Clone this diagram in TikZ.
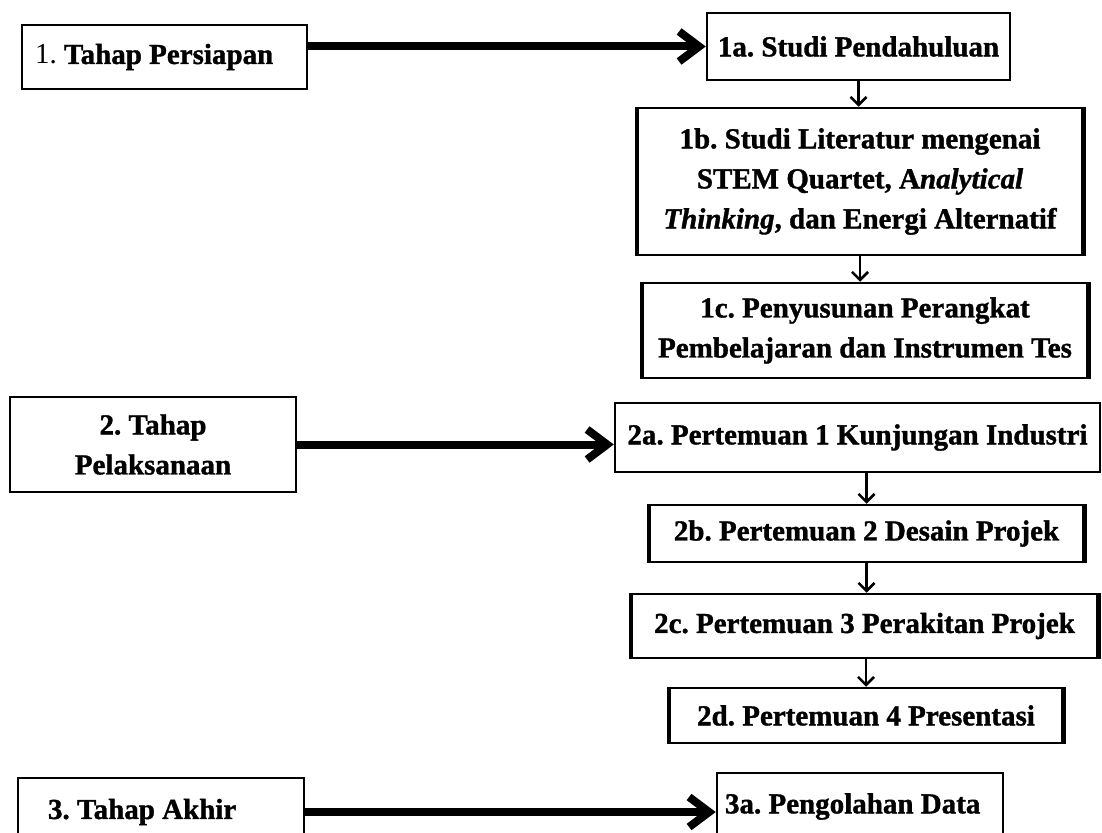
\documentclass[tikz,border=0pt]{standalone}
\usepackage{fontspec}
\setmainfont{Liberation Serif}[BoldFeatures={FakeBold=1.2},BoldItalicFeatures={FakeBold=1.2}]
\usetikzlibrary{arrows.meta}
\frenchspacing
\begin{document}
\begin{tikzpicture}[x=1pt,y=-1pt,
  box/.style={draw=black, line width=2.5pt, rectangle, inner sep=0pt,
    font=\fontsize{29}{40}\selectfont\bfseries\frenchspacing, align=center},
  bigarrow/.style={line width=8pt, -{Straight Barb[length=20pt,width=30pt]}},
  smallarrow/.style={line width=2.6pt, -{Straight Barb[length=8pt,width=16pt]}},
  sidestroke/.style={line width=4.5pt}]
\useasboundingbox[fill=white] (0,0) rectangle (1102,832);

% left column
\node[box, minimum width=285pt, minimum height=64pt, text width=259pt,
      align=flush left, inner xsep=13pt] (p1) at (164.5,57) {{\mdseries 1.} Tahap Persiapan};
\node[box, minimum width=286pt, minimum height=95pt] (p2) at (153,444.5) {2. Tahap\\Pelaksanaan};
\node[box, minimum width=286pt, minimum height=68pt, text width=226pt,
      align=flush left, inner xsep=30pt] (p3) at (161,812) {3. Tahap Akhir};

% right column
\node[box, minimum width=303pt, minimum height=67pt] (a1a) at (858.5,46.5) {1a. Studi Pendahuluan};
\node[box, minimum width=444pt, minimum height=147pt] (b1b) at (860,181.5)
  {1b. Studi Literatur mengenai\\STEM Quartet, A\textit{nalytical}\\\textit{Thinking}, dan Energi Alternatif};
\node[box, minimum width=444pt, minimum height=95pt] (c1c) at (865,330.5)
  {1c. Penyusunan Perangkat\\Pembelajaran dan Instrumen Tes};

\node[box, minimum width=485pt, minimum height=69pt] (a2a) at (857.5,437.5) {2a. Pertemuan 1 Kunjungan Industri};
\node[box, minimum width=433pt, minimum height=57pt] (b2b) at (866.5,533.5) {2b. Pertemuan 2 Desain Projek};
\node[box, minimum width=465pt, minimum height=64pt] (c2c) at (864.5,626) {2c. Pertemuan 3 Perakitan Projek};
\node[box, minimum width=392pt, minimum height=55pt] (d2d) at (866,715.5) {2d. Pertemuan 4 Presentasi};

\node[box, minimum width=286pt, minimum height=67pt, text width=270pt,
      align=flush left, inner xsep=8pt] (a3a) at (860,806.5) {3a. Pengolahan Data};

% thicker side strokes
\foreach \n in {b1b,c1c,b2b,c2c,d2d}
  \draw[sidestroke] (\n.north west) -- (\n.south west) (\n.north east) -- (\n.south east);

% main arrows
\draw[bigarrow] (p1.east |- a1a.west) -- (a1a.west);
\draw[bigarrow] (p2.east) -- (p2.east -| a2a.west);
\draw[bigarrow] (p3.east) -- (p3.east -| a3a.west);

% vertical arrows
\draw[smallarrow] (a1a.south) -- (a1a.south |- b1b.north);
\draw[smallarrow] (b1b.south) -- (b1b.south |- c1c.north);
\draw[smallarrow] (a2a.south -| b2b.north) -- (b2b.north);
\draw[smallarrow] (b2b.south) -- (b2b.south |- c2c.north);
\draw[smallarrow] (c2c.south -| d2d.north) -- (d2d.north);
\end{tikzpicture}
\end{document}
